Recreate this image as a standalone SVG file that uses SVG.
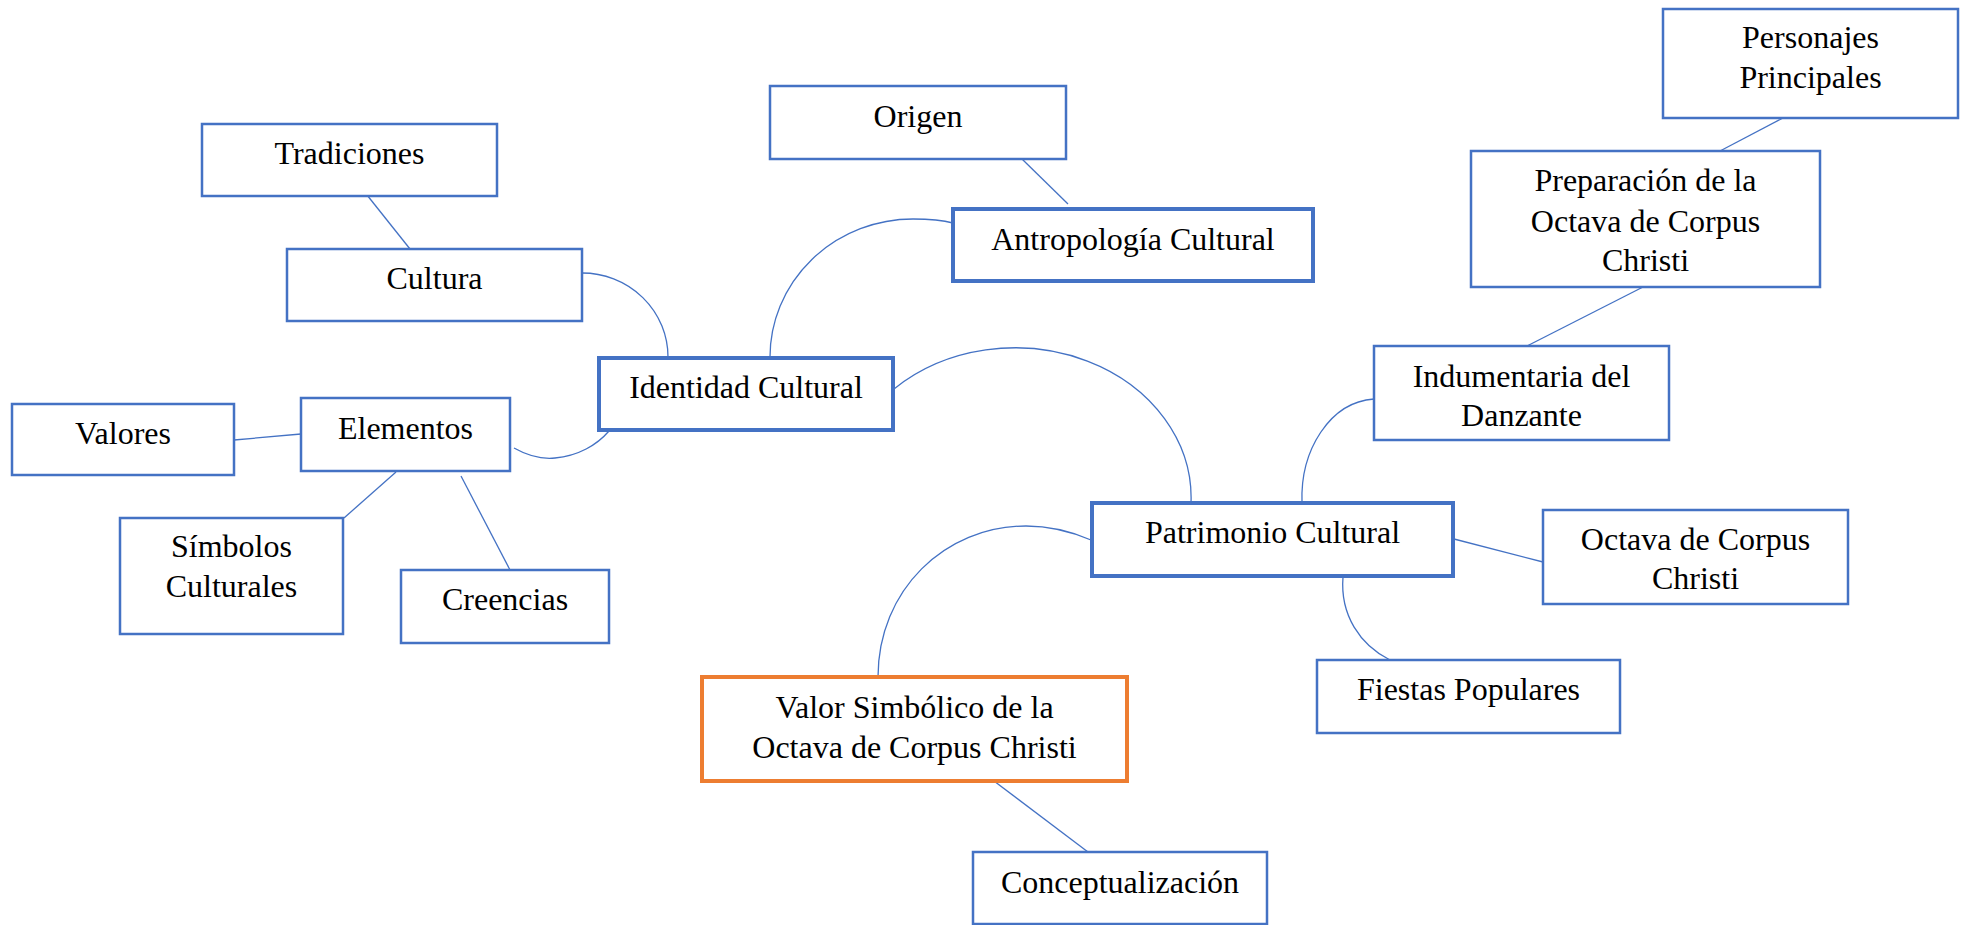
<svg xmlns="http://www.w3.org/2000/svg" width="1968" height="925" viewBox="0 0 1968 925">
<style>
.box{fill:#fff;stroke:#4472C4;stroke-width:2.5}
.thick{fill:#fff;stroke:#4472C4;stroke-width:4}
.orange{fill:#fff;stroke:#ED7D31;stroke-width:4}
.c{fill:none;stroke:#4472C4;stroke-width:1.3}
text{font-family:"Liberation Serif","Times New Roman",serif;font-size:32px;fill:#000;text-anchor:middle}
</style>
<rect width="1968" height="925" fill="#fff"/>
<g id="connectors">
<line class="c" x1="367" y1="195" x2="410" y2="249"/>
<path class="c" d="M582,273 A86,84 0 0 1 668,357"/>
<line class="c" x1="234" y1="440" x2="301" y2="434"/>
<line class="c" x1="396" y1="472" x2="344" y2="518"/>
<line class="c" x1="461" y1="476" x2="510" y2="570"/>
<path class="c" d="M514,448 C530,457 545,459 555,458 C578,456 597,445 609,431"/>
<line class="c" x1="1022" y1="159" x2="1068" y2="204"/>
<path class="c" d="M770,357 A143,138 0 0 1 913,219 C930,219 942,220 953,223"/>
<path class="c" d="M894,389 A176,150 0 0 1 1191,503"/>
<path class="c" d="M878,677 C878,590 945,526 1026,526 C1050,526 1070,531 1091,540"/>
<line class="c" x1="990" y1="778" x2="1088" y2="852"/>
<line class="c" x1="1454" y1="539" x2="1543" y2="562"/>
<path class="c" d="M1343,577 C1340,615 1360,645 1390,660"/>
<path class="c" d="M1302,503 C1300,450 1330,402 1374,399"/>
<line class="c" x1="1643" y1="287" x2="1527" y2="346"/>
<line class="c" x1="1783" y1="118" x2="1720" y2="151"/>
</g>
<g id="tradiciones"><rect class="box" x="202" y="124" width="295" height="72"/><text x="349.5" y="164">Tradiciones</text></g>
<g id="cultura"><rect class="box" x="287" y="249" width="295" height="72"/><text x="434.5" y="289">Cultura</text></g>
<g id="elementos"><rect class="box" x="301" y="398" width="209" height="73"/><text x="405.5" y="439">Elementos</text></g>
<g id="valores"><rect class="box" x="12" y="404" width="222" height="71"/><text x="123" y="444">Valores</text></g>
<g id="simbolos"><rect class="box" x="120" y="518" width="223" height="116"/><text x="231.5" y="557">Símbolos</text><text x="231.5" y="597">Culturales</text></g>
<g id="creencias"><rect class="box" x="401" y="570" width="208" height="73"/><text x="505" y="610">Creencias</text></g>
<g id="identidad"><rect class="thick" x="599" y="358" width="294" height="72"/><text x="746" y="398">Identidad Cultural</text></g>
<g id="origen"><rect class="box" x="770" y="86" width="296" height="73"/><text x="918" y="127">Origen</text></g>
<g id="antropologia"><rect class="thick" x="953" y="209" width="360" height="72"/><text x="1133" y="250">Antropología Cultural</text></g>
<g id="patrimonio"><rect class="thick" x="1092" y="503" width="361" height="73"/><text x="1272.5" y="543">Patrimonio Cultural</text></g>
<g id="octava"><rect class="box" x="1543" y="510" width="305" height="94"/><text x="1695.5" y="550">Octava de Corpus</text><text x="1695.5" y="589">Christi</text></g>
<g id="fiestas"><rect class="box" x="1317" y="660" width="303" height="73"/><text x="1468.5" y="700">Fiestas Populares</text></g>
<g id="indumentaria"><rect class="box" x="1374" y="346" width="295" height="94"/><text x="1521.5" y="387">Indumentaria del</text><text x="1521.5" y="426">Danzante</text></g>
<g id="preparacion"><rect class="box" x="1471" y="151" width="349" height="136"/><text x="1645.5" y="191">Preparación de la</text><text x="1645.5" y="232">Octava de Corpus</text><text x="1645.5" y="271">Christi</text></g>
<g id="personajes"><rect class="box" x="1663" y="9" width="295" height="109"/><text x="1810.5" y="48">Personajes</text><text x="1810.5" y="88">Principales</text></g>
<g id="valor"><rect class="orange" x="702" y="677" width="425" height="104"/><text x="914.5" y="718">Valor Simbólico de la</text><text x="914.5" y="758">Octava de Corpus Christi</text></g>
<g id="conceptualizacion"><rect class="box" x="973" y="852" width="294" height="72"/><text x="1120" y="893">Conceptualización</text></g>
</svg>
